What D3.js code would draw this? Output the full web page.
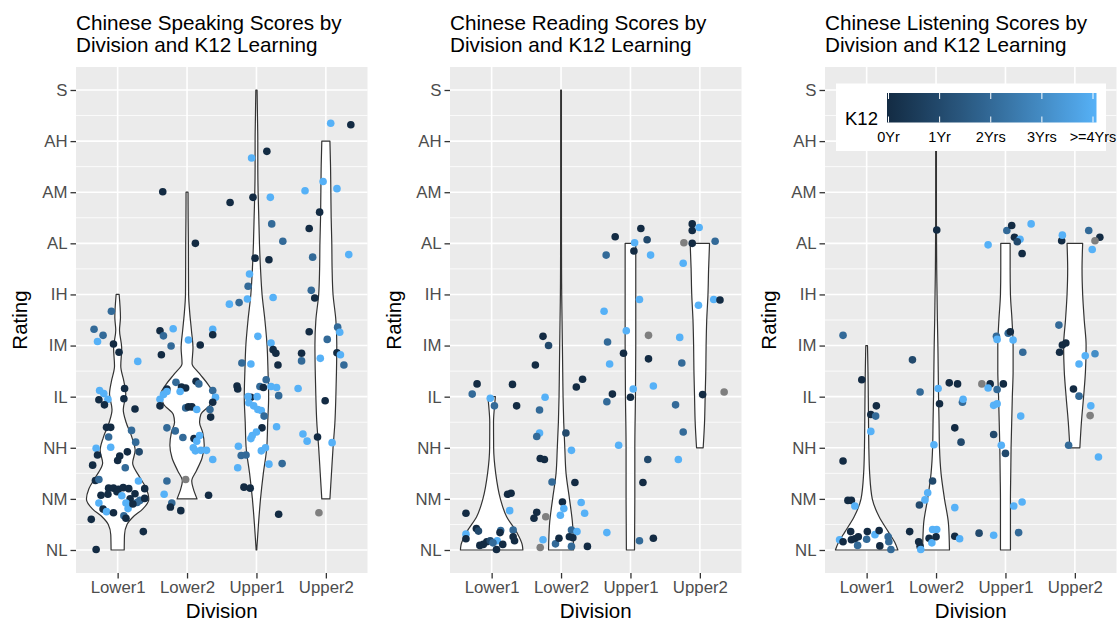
<!DOCTYPE html>
<html>
<head>
<meta charset="utf-8">
<script src="https://cdn.jsdelivr.net/npm/d3@7"></script>
<style>
  body { margin: 0; background: #ffffff; }
  svg text { font-family: "Liberation Sans", Arial, Helvetica, sans-serif; }
</style>
</head>
<body>
<svg id="chart" width="1117" height="621"></svg>
<script>
// ---- categories and labels ----
const divisions = ["Lower1", "Lower2", "Upper1", "Upper2"];
const ratingLabels = ["NL", "NM", "NH", "IL", "IM", "IH", "AL", "AM", "AH", "S"]; // ratings 1..10
const k12Breaks = [0, 1, 2, 3, 4];
const k12Labels = ["0Yr", "1Yr", "2Yrs", "3Yrs", ">=4Yrs"];
const titles = [
  ["Chinese Speaking Scores by", "Division and K12 Learning"],
  ["Chinese Reading Scores by", "Division and K12 Learning"],
  ["Chinese Listening Scores by", "Division and K12 Learning"]
];

// ---- violin densities: [rating, relative density (1 = widest in panel)] ----
const spkViolinLower1 = [[1,.21],[1.3,.22],[1.5,.3],[1.65,.5],[1.8,.8],[2,1.0],[2.2,.92],[2.45,.68],[2.7,.48],[2.95,.56],[3.2,.46],[3.5,.27],[3.75,.18],[4.05,.26],[4.3,.2],[4.6,.1],[4.95,.13],[5.3,.06],[5.55,.09],[6,.048]];
const spkViolinLower2 = [[2,.32],[2.2,.2],[2.35,.15],[2.55,.3],[2.8,.48],[3.05,.55],[3.3,.5],[3.5,.4],[3.65,.44],[3.85,.75],[4.05,.84],[4.25,.66],[4.45,.4],[4.65,.16],[4.95,.19],[5.3,.14],[5.65,.085],[6,.05],[6.5,.045],[7,.043],[7.5,.035],[8,.032]];
const spkViolinUpper1 = [[1,.01],[1.5,.064],[2,.13],[2.5,.22],[3,.33],[3.5,.36],[4,.39],[4.5,.37],[5,.34],[5.5,.27],[6,.18],[6.5,.13],[7,.096],[7.5,.075],[8,.053],[8.5,.043],[9,.043],[9.5,.032],[10,.02]];
const spkViolinUpper2 = [[2,.13],[2.5,.18],[3,.23],[3.5,.29],[4,.32],[4.5,.34],[5,.35],[5.5,.32],[6,.23],[6.5,.2],[7,.19],[7.5,.17],[8,.16],[8.5,.15],[9,.13]];

const rdgViolinLower1 = [[1,1.0],[1.1,.98],[1.35,.8],[1.65,.48],[2,.28],[2.5,.13],[3,.064],[3.5,.06],[3.8,.09],[4,.12]];
const rdgViolinLower2 = [[1,.4],[1.5,.37],[2,.27],[2.5,.16],[3,.12],[3.5,.085],[4,.064],[4.5,.053],[5,.043],[5.5,.032],[6,.021],[6.5,.016],[7,.014],[8,.012],[10,.012]];
const rdgViolinUpper1 = [[1,.13],[2,.14],[3,.14],[4,.16],[5,.17],[6,.17],[7,.17]];
const rdgViolinUpper2 = [[3,.106],[3.5,.15],[4,.17],[4.5,.19],[5,.2],[5.5,.22],[6,.26],[6.5,.28],[7,.31]];

const lstViolinLower1 = [[1,1.0],[1.15,.9],[1.35,.7],[1.65,.4],[2,.18],[2.5,.096],[3,.07],[3.5,.06],[4,.053],[4.5,.043],[5,.027]];
const lstViolinLower2 = [[1,.43],[1.5,.4],[2,.27],[2.5,.16],[3,.11],[3.5,.096],[4,.08],[4.5,.07],[5,.059],[5.5,.043],[6,.032],[6.5,.021],[7,.016],[7.5,.012],[10,.012]];
const lstViolinUpper1 = [[1,.16],[2,.16],[2.5,.17],[3,.18],[3.5,.2],[4,.22],[4.5,.245],[5,.245],[5.5,.21],[6,.16],[6.5,.15],[7,.15]];
const lstViolinUpper2 = [[3,.16],[3.5,.21],[4,.28],[4.5,.34],[5,.36],[5.5,.3],[6,.25],[6.5,.23],[7,.25]];

// ---- jittered students: [offset from division (in divisions), rating, K12 years or null] ----
const spkLower1 = [[-0.09,5.67,2],[-0.34,5.32,2],[-0.29,5.08,4],[-0.21,5.2,2],[-0.06,5.03,0],[0.02,4.87,0],[0.29,4.69,4],[-0.26,4.12,4],[-0.2,4.06,4],[-0.14,3.95,4],[-0.27,3.94,0],[-0.19,3.84,0],[0.1,4.16,0],[0.09,3.96,0],[0.25,3.76,0],[-0.16,3.4,0],[-0.1,3.4,0],[0.2,3.34,2],[-0.13,3.21,2],[0.26,3.11,2],[-0.31,2.99,4],[-0.29,2.86,0],[-0.1,3.01,4],[0.03,2.84,0],[0.0,2.75,0],[0.14,2.92,0],[0.31,2.92,1],[0.11,2.61,2],[-0.36,2.66,0],[-0.32,2.36,0],[-0.27,2.38,2],[0.3,2.35,4],[-0.13,2.21,0],[-0.06,2.21,0],[0.01,2.19,0],[0.08,2.22,0],[0.16,2.2,0],[0.25,2.1,0],[0.39,2.2,0],[-0.24,2.07,0],[-0.14,2.09,0],[-0.01,2.14,0],[0.06,2.06,4],[0.18,2.0,0],[0.32,1.97,2],[0.39,2.01,0],[-0.27,1.92,4],[-0.21,1.8,0],[-0.16,1.75,4],[-0.06,1.73,0],[0.12,1.92,4],[0.15,1.81,4],[0.09,1.67,2],[0.12,1.62,0],[-0.38,1.6,0],[0.37,1.36,0],[-0.31,1.01,0],[0.28,1.93,2],[0.22,1.9,0]];
const spkLower2 = [[-0.35,8.01,0],[0.12,7.0,0],[-0.39,5.29,0],[-0.34,5.19,2],[-0.2,5.33,4],[0.02,5.11,4],[0.19,5.01,0],[0.37,5.32,4],[0.37,5.21,0],[-0.37,4.82,0],[-0.23,4.99,2],[-0.16,4.28,2],[-0.29,4.15,0],[-0.08,4.19,0],[-0.02,4.17,0],[0.13,4.3,0],[0.17,4.25,2],[0.37,4.12,2],[0.41,3.99,4],[0.37,3.89,0],[0.33,3.75,2],[0.34,3.6,0],[-0.39,3.95,4],[-0.34,4.04,4],[-0.29,4.1,4],[-0.39,3.82,0],[-0.02,3.78,2],[0.02,3.8,0],[0.07,3.8,0],[0.14,3.75,4],[-0.1,4.1,4],[-0.29,3.39,2],[-0.17,3.33,2],[-0.06,3.2,2],[0.1,3.18,0],[0.18,3.24,4],[0.14,3.13,4],[0.09,3.0,4],[0.12,2.94,4],[0.2,2.95,4],[0.28,2.95,4],[0.37,2.77,4],[-0.02,2.38,null],[-0.29,2.35,2],[-0.33,2.09,4],[-0.22,1.92,2],[-0.24,1.84,0],[-0.09,1.77,0],[0.31,2.07,0]];
const spkUpper1 = [[0.15,8.8,0],[-0.07,8.67,4],[-0.38,7.8,0],[-0.05,7.9,0],[0.2,7.9,4],[0.22,7.38,2],[0.38,7.04,2],[-0.02,6.71,0],[0.18,6.68,0],[-0.1,6.4,4],[-0.12,6.16,2],[-0.13,5.91,4],[-0.25,5.84,2],[-0.39,5.81,4],[0.24,5.94,4],[0.02,5.18,4],[0.21,5.05,4],[0.24,4.92,0],[0.28,4.85,0],[0.31,4.62,0],[-0.21,4.66,2],[-0.08,4.64,4],[-0.28,4.21,0],[-0.27,4.15,0],[0.14,4.33,2],[0.05,4.2,2],[0.1,4.18,0],[0.21,4.2,4],[0.29,4.18,4],[0.32,4.02,2],[-0.08,3.99,0],[-0.12,4.0,4],[0.01,4.0,4],[-0.11,3.88,4],[-0.04,3.82,4],[0.02,3.75,4],[0.07,3.73,4],[0.11,3.62,2],[0.08,3.39,0],[0.29,3.41,4],[0.0,3.31,4],[-0.08,3.18,4],[-0.06,3.24,4],[-0.26,3.03,4],[-0.22,2.85,2],[-0.15,2.86,2],[0.07,2.94,4],[0.13,3.0,4],[0.18,2.68,4],[0.37,2.69,2],[-0.27,2.61,4],[-0.18,2.23,0],[-0.09,2.21,0],[0.32,1.7,0]];
const spkUpper2 = [[0.07,9.35,4],[0.36,9.32,0],[-0.04,8.21,4],[0.16,8.07,4],[-0.3,8.03,4],[-0.09,7.61,0],[-0.24,7.29,0],[-0.19,6.73,2],[0.33,6.78,4],[-0.21,6.08,2],[-0.16,5.93,0],[-0.24,5.27,0],[0.02,5.12,2],[0.17,5.36,2],[0.2,5.26,4],[-0.35,4.85,0],[-0.35,4.7,2],[-0.08,4.75,4],[0.16,4.86,0],[0.21,4.82,4],[0.26,4.62,2],[-0.4,4.16,4],[-0.01,3.92,0],[-0.33,3.27,4],[-0.27,3.13,4],[-0.12,3.21,0],[0.09,3.1,4],[-0.1,1.73,null]];

const rdgLower1 = [[-0.21,4.25,0],[-0.28,4.05,2],[-0.02,3.97,4],[0.04,3.82,2],[0.3,4.24,0],[0.36,3.82,0],[0.23,2.09,0],[0.28,2.11,0],[0.26,1.77,4],[-0.37,1.72,0],[-0.37,1.31,4],[-0.37,1.22,0],[-0.22,1.42,0],[-0.19,1.37,1],[-0.17,1.09,0],[-0.12,1.11,0],[-0.07,1.16,0],[-0.02,1.18,1],[0.07,1.01,0],[0.08,1.18,4],[0.13,1.38,2],[0.16,1.11,0],[0.31,1.39,2],[0.31,1.26,0],[0.33,1.18,0],[0.12,1.34,0],[0.02,1.14,2]];
const rdgLower2 = [[-0.26,5.18,0],[-0.18,5.0,1],[-0.37,4.62,0],[0.31,4.34,0],[0.22,4.19,0],[-0.23,3.99,4],[-0.31,3.74,2],[-0.31,3.29,4],[-0.35,3.22,2],[0.07,3.29,1],[0.15,2.95,4],[-0.3,2.79,0],[-0.24,2.77,0],[-0.13,2.33,2],[0.2,2.32,0],[0.02,1.94,0],[0.04,1.81,4],[0.29,1.93,4],[0.34,1.72,4],[-0.01,1.68,4],[-0.35,1.74,0],[-0.39,1.62,0],[-0.22,1.65,null],[0.15,1.39,2],[0.23,1.36,4],[0.12,1.26,0],[0.17,1.24,0],[-0.26,1.2,4],[-0.08,1.12,2],[-0.03,1.23,0],[0.15,1.07,2],[0.38,1.07,0],[-0.3,1.05,null]];
const rdgUpper1 = [[-0.22,7.13,0],[0.15,7.29,0],[0.24,7.07,1],[0.06,7.01,4],[0.05,6.85,0],[-0.35,6.77,2],[0.29,6.77,4],[0.13,5.9,4],[-0.38,5.67,4],[-0.06,5.29,4],[0.26,5.2,null],[-0.33,5.07,2],[-0.1,4.85,0],[0.26,4.74,0],[-0.3,4.64,4],[0.33,4.21,4],[0.04,4.15,4],[-0.26,4.05,0],[0.0,3.99,0],[-0.34,3.9,2],[-0.17,3.05,4],[0.25,2.77,1],[0.18,2.32,0],[-0.34,1.34,4],[0.13,1.18,2],[0.33,1.23,0]];
const rdgUpper2 = [[-0.11,7.38,0],[-0.11,7.25,0],[-0.01,7.31,4],[-0.23,7.01,null],[-0.11,7.0,0],[0.22,7.04,2],[-0.24,6.61,4],[-0.02,5.79,4],[0.2,5.9,4],[0.29,5.89,0],[-0.29,5.16,4],[-0.26,4.66,2],[0.04,4.04,0],[0.35,4.09,null],[-0.35,3.84,2],[-0.24,3.31,2],[-0.31,2.77,4]];

const lstLower1 = [[-0.34,5.2,2],[-0.07,4.33,0],[0.14,3.82,0],[0.06,3.65,0],[0.13,3.62,2],[0.06,3.32,4],[-0.34,2.74,0],[-0.27,1.97,0],[-0.22,1.97,0],[-0.17,1.86,4],[-0.39,1.2,4],[-0.34,1.16,0],[-0.23,1.36,0],[-0.22,1.2,0],[-0.17,1.22,0],[-0.12,1.26,0],[-0.13,1.09,2],[0.01,1.36,0],[0.0,1.21,2],[0.12,1.3,4],[0.18,1.38,0],[0.19,1.08,0],[0.31,1.26,2],[0.32,1.16,2],[0.35,1.01,2]];
const lstLower2 = [[0.01,7.26,0],[-0.34,4.72,1],[-0.23,4.09,2],[0.03,4.16,4],[0.19,4.27,0],[0.31,4.25,0],[0.05,3.86,0],[0.38,3.89,2],[0.39,3.95,4],[0.27,3.39,0],[0.36,3.11,1],[-0.03,3.06,4],[-0.05,2.35,1],[-0.12,2.12,4],[-0.16,1.98,4],[-0.24,1.88,1],[0.27,1.83,4],[-0.38,1.36,0],[-0.25,1.16,0],[-0.23,1.07,0],[-0.22,1.01,4],[-0.1,1.23,0],[-0.06,1.14,4],[-0.05,1.4,4],[0.01,1.4,4],[0.0,1.26,0],[0.27,1.27,0],[0.34,1.22,4]];
const lstUpper1 = [[-0.25,6.97,4],[0.02,7.25,2],[0.09,7.35,0],[0.13,7.12,0],[0.21,7.08,4],[0.17,7.03,1],[0.24,6.8,0],[0.37,7.38,4],[-0.13,5.18,2],[-0.12,5.12,4],[0.04,5.24,2],[0.07,5.27,0],[0.11,5.11,4],[0.25,4.87,2],[-0.34,4.25,null],[-0.22,4.25,0],[-0.03,4.25,0],[-0.25,4.17,4],[-0.12,4.14,2],[-0.17,3.83,4],[-0.12,3.86,4],[0.22,3.62,4],[-0.17,3.26,1],[-0.06,3.05,4],[0.0,2.89,1],[0.12,1.86,4],[0.24,1.94,4],[-0.38,1.33,1],[-0.17,1.29,4],[0.19,1.34,2]];
const lstUpper2 = [[-0.19,7.05,0],[-0.18,7.16,4],[0.2,7.25,2],[0.36,7.12,0],[0.29,7.05,null],[0.25,6.88,4],[-0.23,5.4,2],[-0.22,4.87,0],[-0.18,5.01,0],[-0.13,5.05,0],[0.06,4.64,4],[0.15,4.8,4],[0.29,4.84,3],[-0.02,4.15,0],[0.06,4.01,2],[0.23,3.82,4],[0.22,3.63,null],[-0.09,3.05,2],[0.34,2.82,4]];

const panels = [
  { left: 76,  violins: [spkViolinLower1, spkViolinLower2, spkViolinUpper1, spkViolinUpper2], points: [spkLower1, spkLower2, spkUpper1, spkUpper2] },
  { left: 450, violins: [rdgViolinLower1, rdgViolinLower2, rdgViolinUpper1, rdgViolinUpper2], points: [rdgLower1, rdgLower2, rdgUpper1, rdgUpper2] },
  { left: 825, violins: [lstViolinLower1, lstViolinLower2, lstViolinUpper1, lstViolinUpper2], points: [lstLower1, lstLower2, lstUpper1, lstUpper2] }
];

// ---- layout ----
const panelW = 291.5, panelTop = 67, panelBottom = 573;
const svg = d3.select("#chart");

const y = d3.scaleLinear().domain([0.55, 10.45]).range([panelBottom, panelTop]);
const k12Color = d3.scaleLinear().domain([0, 4]).range(["#132B43", "#56B1F7"]).interpolate(d3.interpolateLab);
const naColor = "#7F7F7F";

panels.forEach((p, pi) => {
  const x = d3.scalePoint().domain(divisions).range([p.left, p.left + panelW]).padding(0.6);
  const step = x.step();
  const g = svg.append("g");

  // background and grid
  g.append("rect").attr("x", p.left).attr("y", panelTop).attr("width", panelW)
    .attr("height", panelBottom - panelTop).attr("fill", "#EBEBEB");
  const minor = d3.range(1.5, 10, 1);
  g.selectAll(".minor").data(minor).join("line")
    .attr("x1", p.left).attr("x2", p.left + panelW)
    .attr("y1", d => y(d)).attr("y2", d => y(d))
    .attr("stroke", "#ffffff").attr("stroke-width", 0.8);
  g.selectAll(".majorY").data(d3.range(1, 11)).join("line")
    .attr("x1", p.left).attr("x2", p.left + panelW)
    .attr("y1", d => y(d)).attr("y2", d => y(d))
    .attr("stroke", "#ffffff").attr("stroke-width", 1.6);
  g.selectAll(".majorX").data(divisions).join("line")
    .attr("x1", d => x(d)).attr("x2", d => x(d))
    .attr("y1", panelTop).attr("y2", panelBottom)
    .attr("stroke", "#ffffff").attr("stroke-width", 1.6);

  // violins
  const halfW = d3.scaleLinear().domain([0, 1]).range([0, 0.45 * step]);
  p.violins.forEach((v, vi) => {
    const cx = x(divisions[vi]);
    const area = d3.area()
      .y(d => y(d[0]))
      .x0(d => cx - halfW(d[1]))
      .x1(d => cx + halfW(d[1]))
      .curve(d3.curveMonotoneY);
    g.append("path").attr("d", area(v))
      .attr("fill", "#ffffff").attr("stroke", "#333333").attr("stroke-width", 1.2)
      .attr("stroke-linejoin", "round");
  });

  // jittered points
  p.points.forEach((pts, di) => {
    const cx = x(divisions[di]);
    g.selectAll(null).data(pts).join("circle")
      .attr("cx", d => cx + d[0] * step)
      .attr("cy", d => y(d[1]))
      .attr("r", 3.8)
      .attr("fill", d => d[2] === null ? naColor : k12Color(d[2]));
  });

  // y axis
  const yAxis = d3.axisLeft(y).tickValues(d3.range(1, 11))
    .tickFormat(d => ratingLabels[d - 1]).tickSize(5.5).tickPadding(3);
  const ya = svg.append("g").attr("transform", `translate(${p.left},0)`).call(yAxis);
  ya.select(".domain").remove();
  ya.selectAll(".tick line").attr("stroke", "#333333").attr("stroke-width", 1.3);
  ya.selectAll(".tick text").attr("fill", "#4D4D4D").style("font-size", "16.8px");

  // x axis
  const xAxis = d3.axisBottom(x).tickSize(5.5).tickPadding(3);
  const xa = svg.append("g").attr("transform", `translate(0,${panelBottom})`).call(xAxis);
  xa.select(".domain").remove();
  xa.selectAll(".tick line").attr("stroke", "#333333").attr("stroke-width", 1.3);
  xa.selectAll(".tick text").attr("fill", "#4D4D4D").style("font-size", "16.8px");

  // axis titles
  svg.append("text").attr("x", p.left + panelW / 2).attr("y", 618)
    .attr("text-anchor", "middle").style("font-size", "20.5px").attr("fill", "#000")
    .text("Division");
  svg.append("text")
    .attr("transform", `translate(${p.left - 49},${(panelTop + panelBottom) / 2}) rotate(-90)`)
    .attr("text-anchor", "middle").style("font-size", "20.5px").attr("fill", "#000")
    .text("Rating");

  // title
  const t = svg.append("text").attr("x", p.left).attr("y", 29.5)
    .style("font-size", "20.7px").attr("fill", "#000");
  titles[pi].forEach((line, li) => {
    t.append("tspan").attr("x", p.left).attr("dy", li === 0 ? 0 : 22.3).text(line);
  });
});

// ---- colour bar legend (inside the listening panel) ----
const leg = svg.append("g");
leg.append("rect").attr("x", 836).attr("y", 83.5).attr("width", 270).attr("height", 67.5).attr("fill", "#ffffff");
const barX = d3.scaleLinear().domain([0, 4]).range([888.5, 1093]);
const grad = svg.append("defs").append("linearGradient").attr("id", "k12grad");
grad.selectAll("stop").data(d3.range(0, 1.0001, 0.05)).join("stop")
  .attr("offset", d => d).attr("stop-color", d => k12Color(d * 4));
leg.append("rect").attr("x", 887).attr("y", 93).attr("width", 209.5).attr("height", 29.5)
  .attr("fill", "url(#k12grad)");
leg.selectAll(".tkTop").data(k12Breaks).join("line")
  .attr("x1", d => barX(d)).attr("x2", d => barX(d)).attr("y1", 93).attr("y2", 99)
  .attr("stroke", "#ffffff").attr("stroke-width", 1);
leg.selectAll(".tkBot").data(k12Breaks).join("line")
  .attr("x1", d => barX(d)).attr("x2", d => barX(d)).attr("y1", 116.5).attr("y2", 122.5)
  .attr("stroke", "#ffffff").attr("stroke-width", 1);
leg.selectAll(".lbl").data(k12Breaks).join("text")
  .attr("x", d => barX(d)).attr("y", 142)
  .attr("text-anchor", "middle").style("font-size", "14.5px").attr("fill", "#000")
  .text((d, i) => k12Labels[i]);
leg.append("text").attr("x", 845).attr("y", 124.5).style("font-size", "18.5px").attr("fill", "#000").text("K12");
</script>
</body>
</html>
